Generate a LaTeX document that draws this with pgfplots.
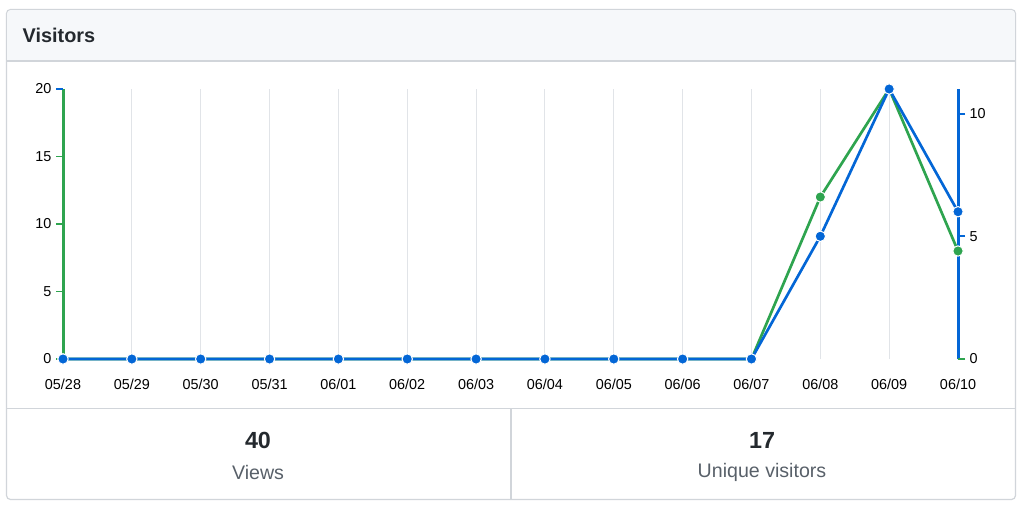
\documentclass[border=0pt]{standalone}
\usepackage{pgfplots}
\pgfplotsset{compat=1.18}
\usepackage{fontspec}
\setmainfont{Liberation Sans}
\definecolor{ghgreen}{HTML}{2EA44F}
\definecolor{ghblue}{HTML}{0366D6}
\definecolor{ghborder}{HTML}{D1D5DA}
\definecolor{ghhead}{HTML}{F6F8FA}
\definecolor{ghgrid}{HTML}{E1E4E8}
\definecolor{ghtext}{HTML}{24292E}
\definecolor{ghgray}{HTML}{586069}

\pgfplotstableread{
x views
0 0
1 0
2 0
3 0
4 0
5 0
6 0
7 0
8 0
9 0
10 0
11 12
12 20
13 8
}\viewsdata
\pgfplotstableread{
x uniques
0 0
1 0
2 0
3 0
4 0
5 0
6 0
7 0
8 0
9 0
10 0
11 5
12 11
13 6
}\uniquedata

\pgfplotsset{
  common/.style={
    at={(47.25pt,-269.25pt)}, anchor=south west,
    scale only axis, width=671.25pt, height=202.5pt,
    xmin=0, xmax=13, ymin=0,
    /pgf/number format/assume math mode=true,
    tick align=outside, major tick length=5.25pt,
    yticklabel style={font=\fontsize{10.8}{12}\selectfont, text=black},
    xticklabel style={font=\fontsize{10.8}{12}\selectfont, text=black, yshift=-6.5pt},
  }
}

\begin{document}
\begin{tikzpicture}[x=0.75pt,y=-0.75pt]
\path[use as bounding box] (0,0) rectangle (1024,511);
\fill[white] (0,0) rectangle (1024,511);
\draw[ghborder, line width=0.9pt, rounded corners=3pt, fill=white] (6.5,9.5) rectangle (1015.5,499.5);
\path[fill=ghhead, rounded corners=2.5pt] (7.2,61) -- (7.2,10.2) -- (1014.8,10.2) -- (1014.8,61);
\draw[ghborder, line width=0.9pt] (6.5,61) -- (1015.5,61);
\node[anchor=west, font=\bfseries\fontsize{14.9}{16}\selectfont, text=ghtext] at (18,35) {Visitors};
\draw[ghborder, line width=0.9pt] (6.5,408.5) -- (1015.5,408.5);
\draw[ghborder, line width=0.9pt] (511,408.5) -- (511,499.5);
\node[font=\bfseries\fontsize{17.5}{19}\selectfont, text=ghtext] at (258,440) {40};
\node[font=\fontsize{14.7}{16}\selectfont, text=ghgray] at (258,472) {Views};
\node[font=\bfseries\fontsize{17.5}{19}\selectfont, text=ghtext] at (762,440) {17};
\node[font=\fontsize{14.7}{16}\selectfont, text=ghgray] at (762,472) {Unique visitors};

\begin{scope}[x=1cm,y=1cm]
% Axis A: right axis, grid, x labels
\begin{axis}[common, ymax=11,
  axis y line*=right, axis x line*=bottom,
  x axis line style={draw=none},
  y axis line style={ghblue, line width=2.25pt},
  xtick={0,...,13},
  xticklabels={05/28,05/29,05/30,05/31,06/01,06/02,06/03,06/04,06/05,06/06,06/07,06/08,06/09,06/10},
  x tick style={draw=none},
  xmajorgrids, major x grid style={ghgrid, line width=0.75pt},
  ytick={5,10},
  y tick style={ghblue, line width=1.5pt},
  extra y ticks={0},
  extra y tick style={y tick style={ghgreen, line width=1.5pt}},
]
\end{axis}
% Axis B: left axis, views
\begin{axis}[common, ymax=20, clip=false,
  axis y line*=left, axis x line*=bottom,
  x axis line style={draw=none}, xtick=\empty,
  y axis line style={ghgreen, line width=2.25pt},
  ytick={0,5,10,15},
  y tick style={ghgreen, line width=0.9pt},
  extra y ticks={20},
  extra y tick style={y tick style={ghblue, line width=1.5pt}},
]
\addplot[ghgreen, line width=2pt, mark=*, mark size=3.9pt,
  mark options={fill=ghgreen, draw=white, line width=0.75pt}] table[x=x,y=views] {\viewsdata};
\end{axis}
% Axis C: unique visitors
\begin{axis}[common, ymax=11, clip=false, hide axis]
\addplot[ghblue, line width=2pt, mark=*, mark size=3.9pt,
  mark options={fill=ghblue, draw=white, line width=0.75pt}] table[x=x,y=uniques] {\uniquedata};
\end{axis}
\end{scope}
\end{tikzpicture}
\end{document}
